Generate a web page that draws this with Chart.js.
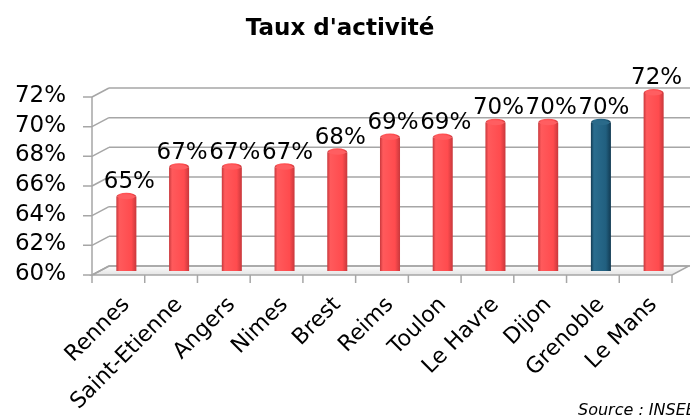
<!DOCTYPE html>
<html lang="fr">
<head>
<meta charset="UTF-8">
<title>Taux d'activité</title>
<script src="https://cdn.jsdelivr.net/npm/chart.js@4.4.1/dist/chart.umd.min.js"></script>
<style>
  html, body { margin: 0; padding: 0; background: #fff; }
  #wrap { width: 690px; height: 418px; }
</style>
</head>
<body>
<div id="wrap"><canvas id="chart"></canvas></div>
<script>
const cities = ["Rennes", "Saint-Etienne", "Angers", "Nimes", "Brest", "Reims", "Toulon", "Le Havre", "Dijon", "Grenoble", "Le Mans"];
const rates = [65, 67, 67, 67, 68, 69, 69, 70, 70, 70, 72];
const highlighted = "Grenoble";
const yTicks = [60, 62, 64, 66, 68, 70, 72];
const sourceNote = "Source : INSEE";

// 3D offsets of the front edge and the back wall relative to the bar plane
const FRONT = { dx: -8, dy: 4 };
const BACK = { dx: 9, dy: -5 };
const FONT = "'DejaVu Sans', Verdana, sans-serif";

function palette(i) {
  return cities[i] === highlighted
    ? { edge: "#123a52", mid: "#215f7f", light: "#2a6d8f", top: "#2a6a8a" }
    : { edge: "#c8383c", mid: "#ff4b4e", light: "#ff5a5c", top: "#ff5e61" };
}

function cylGradient(ctx, cx, w, p) {
  const g = ctx.createLinearGradient(cx - w / 2, 0, cx + w / 2, 0);
  g.addColorStop(0, p.edge);
  g.addColorStop(0.15, p.light);
  g.addColorStop(0.75, p.mid);
  g.addColorStop(1, p.edge);
  return g;
}

// walls, floor, gridlines and ticks of the pseudo-3D frame
const frame = {
  id: "frame",
  beforeDatasetsDraw(chart) {
    const { ctx, chartArea: a, scales: { y } } = chart;
    const b0 = y.getPixelForValue(yTicks[0]);
    ctx.save();

    // floor
    ctx.beginPath();
    ctx.moveTo(a.left + FRONT.dx, b0 + FRONT.dy);
    ctx.lineTo(a.right + FRONT.dx, b0 + FRONT.dy);
    ctx.lineTo(a.right + BACK.dx, b0 + BACK.dy);
    ctx.lineTo(a.left + BACK.dx, b0 + BACK.dy);
    ctx.closePath();
    const fg = ctx.createLinearGradient(0, b0 + BACK.dy, 0, b0 + FRONT.dy);
    fg.addColorStop(0, "#fcfcfc");
    fg.addColorStop(1, "#e4e4e4");
    ctx.fillStyle = fg;
    ctx.fill();
    ctx.strokeStyle = "#a6a6a6";
    ctx.lineWidth = 1.5;
    ctx.stroke();

    // back-wall gridlines + side diagonals + left ticks
    yTicks.forEach(v => {
      const py = y.getPixelForValue(v);
      ctx.beginPath();
      ctx.moveTo(a.left + BACK.dx, py + BACK.dy);
      ctx.lineTo(chart.width, py + BACK.dy);
      ctx.moveTo(a.left + FRONT.dx, py + FRONT.dy);
      ctx.lineTo(a.left + BACK.dx, py + BACK.dy);
      ctx.moveTo(a.left + FRONT.dx - 9, py + FRONT.dy);
      ctx.lineTo(a.left + FRONT.dx, py + FRONT.dy);
      ctx.stroke();
    });

    // front vertical axis
    ctx.beginPath();
    ctx.moveTo(a.left + FRONT.dx, y.getPixelForValue(yTicks[yTicks.length - 1]) + FRONT.dy);
    ctx.lineTo(a.left + FRONT.dx, b0 + FRONT.dy);
    ctx.stroke();

    // category tick marks on the front edge
    const n = cities.length;
    for (let i = 0; i <= n; i++) {
      const px = a.left + i * (a.right - a.left) / n + FRONT.dx;
      ctx.beginPath();
      ctx.moveTo(px, b0 + FRONT.dy);
      ctx.lineTo(px, b0 + FRONT.dy + 8);
      ctx.stroke();
    }
    ctx.restore();
  },
  afterDraw(chart) {
    const { ctx } = chart;
    ctx.save();
    ctx.fillStyle = "#000";
    ctx.font = "italic 16px " + FONT;
    ctx.textAlign = "left";
    ctx.textBaseline = "alphabetic";
    ctx.fillText(sourceNote, 578, 415);
    ctx.restore();
  }
};

// cylinder caps, floor shadows and value labels
const cylinders = {
  id: "cylinders",
  beforeDatasetsDraw(chart) {
    const { ctx } = chart;
    const meta = chart.getDatasetMeta(0);
    ctx.save();
    ctx.filter = "blur(3px)";
    ctx.fillStyle = "rgba(0,0,0,0.13)";
    meta.data.forEach(bar => {
      ctx.beginPath();
      ctx.ellipse(bar.x + 10, bar.base - 1, bar.width * 0.8, 3.5, 0, 0, Math.PI * 2);
      ctx.fill();
    });
    ctx.restore();
  },
  afterDatasetsDraw(chart) {
    const { ctx } = chart;
    const meta = chart.getDatasetMeta(0);
    ctx.save();
    meta.data.forEach((bar, i) => {
      const p = palette(i);
      const w = bar.width;
      const ry = 4;
      // bottom rounding
      ctx.beginPath();
      ctx.ellipse(bar.x, bar.base, w / 2, ry, 0, 0, Math.PI);
      ctx.fillStyle = cylGradient(ctx, bar.x, w, p);
      ctx.fill();
      // top cap
      ctx.beginPath();
      ctx.ellipse(bar.x, bar.y, w / 2, ry, 0, Math.PI, Math.PI * 2);
      ctx.fillStyle = cylGradient(ctx, bar.x, w, p);
      ctx.fill();
      ctx.beginPath();
      ctx.ellipse(bar.x, bar.y, w / 2 - 1.5, ry - 1.5, 0, 0, Math.PI * 2);
      ctx.fillStyle = p.top;
      ctx.fill();

      ctx.fillStyle = "#000";
      ctx.font = "23px " + FONT;
      ctx.textAlign = "center";
      ctx.textBaseline = "bottom";
      ctx.fillText(rates[i] + "%", bar.x + 3, bar.y - 3);
    });
    ctx.restore();
  }
};

new Chart(document.getElementById("chart"), {
  type: "bar",
  data: {
    labels: cities,
    datasets: [{
      label: "Taux d'activité",
      data: rates,
      borderWidth: 0,
      categoryPercentage: 1,
      barPercentage: 0.38,
      backgroundColor(c) {
        const chart = c.chart;
        const p = palette(c.dataIndex);
        if (!chart.chartArea || c.dataIndex === undefined) return p.mid;
        const x = chart.scales.x;
        const w = (x.right - x.left) / cities.length * 0.38;
        return cylGradient(chart.ctx, x.getPixelForValue(c.dataIndex), w, p);
      }
    }]
  },
  options: {
    responsive: true,
    maintainAspectRatio: false,
    animation: false,
    layout: { padding: { top: 0, left: 0, right: 10, bottom: 0 } },
    plugins: {
      legend: { display: false },
      tooltip: { enabled: false },
      title: {
        display: true,
        text: "Taux d'activité",
        color: "#000",
        font: { family: FONT, size: 23, weight: "bold" },
        padding: { top: 15, bottom: 50.4 }
      }
    },
    scales: {
      x: {
        grid: { display: false },
        border: { display: false },
        ticks: {
          color: "#000",
          font: { family: FONT, size: 22 },
          maxRotation: 45,
          minRotation: 45,
          autoSkip: false,
          padding: 13
        },
        afterFit(s) { s.height = 147; }
      },
      y: {
        min: 60,
        max: 72,
        grid: { display: false, drawTicks: false },
        border: { display: false },
        afterBuildTicks(s) { s.ticks = yTicks.map(v => ({ value: v })); },
        ticks: {
          color: "#000",
          font: { family: FONT, size: 23 },
          padding: 34,
          labelOffset: 3,
          autoSkip: false,
          callback: v => v + "%"
        },
        afterFit(s) { s.width = 100; }
      }
    }
  },
  plugins: [frame, cylinders]
});
</script>
</body>
</html>
